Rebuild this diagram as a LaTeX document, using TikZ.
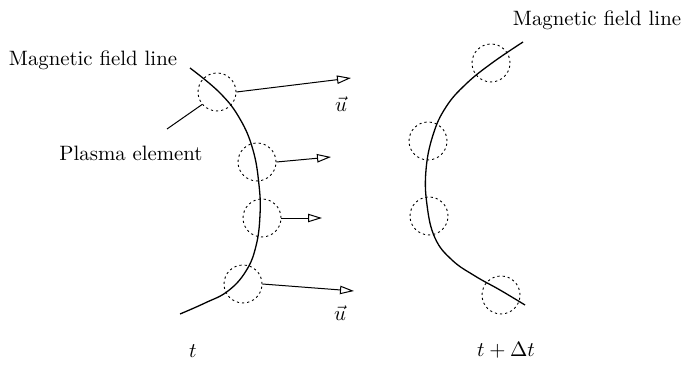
\documentclass[tikz,border=0pt]{standalone}
\usetikzlibrary{arrows.meta}
\begin{document}
\begin{tikzpicture}[x=0.5pt,y=-0.5pt,
  fieldline/.style={line width=0.65pt},
  element/.style={circle, draw, line width=0.45pt, dash pattern=on 1.1pt off 1.5pt, minimum size=19pt, inner sep=0pt},
  velocity/.style={line width=0.5pt, -{Triangle[open, length=7pt, width=4.2pt]}},
  pointer/.style={line width=0.5pt},
  lbl/.style={inner sep=0pt, scale=1.04}]
\useasboundingbox[fill=white] (0,0) rectangle (685,369);

% left field line (time t)
\draw[fieldline] plot[smooth, tension=0.7] coordinates {(190,68) (220,93) (240,119) (253,150) (259,185) (260,215) (256,246) (246,271) (228,291) (205,303) (180,314)};

% plasma elements, time t
\node[element] (c1) at (217,92) {};
\node[element] (c2) at (257,162) {};
\node[element] (c3) at (262,218) {};
\node[element] (c4) at (243,284) {};

\coordinate (a1) at (351,78);
\coordinate (a2) at (331,157);
\coordinate (a3) at (322,218);
\coordinate (a4) at (354,291);
\draw[velocity] (c1.east) -- (a1);
\draw[velocity] (c2.east) -- (a2);
\draw[velocity] (c3.east) -- (a3);
\draw[velocity] (c4.east) -- (a4);

\node[lbl] (u1) at (341,104) {$\vec{u}$};
\node[lbl] (u2) at (340,313) {$\vec{u}$};

\node[lbl] (mfl1) at (93,60) {Magnetic field line};
\node[lbl] (pe) at (131,153) {Plasma element};
\coordinate (pestart) at (167,129);
\draw[pointer] (pestart) -- (c1.220);

\node[lbl] (t1) at (193,351) {$t$};

% right field line (time t + dt)
\draw[fieldline] plot[smooth, tension=0.7] coordinates {(523,42) (492,63) (466,84) (446,107) (433,135) (426,170) (427,205) (435,238) (452,260) (475,276) (500,290) (525,305)};

\node[element] (d1) at (491,63) {};
\node[element] (d2) at (428,141) {};
\node[element] (d3) at (429,216) {};
\node[element] (d4) at (501,295) {};

\node[lbl] (mfl2) at (597,20) {Magnetic field line};
\node[lbl] (t2) at (506,350) {$t+\Delta t$};
\end{tikzpicture}
\end{document}
